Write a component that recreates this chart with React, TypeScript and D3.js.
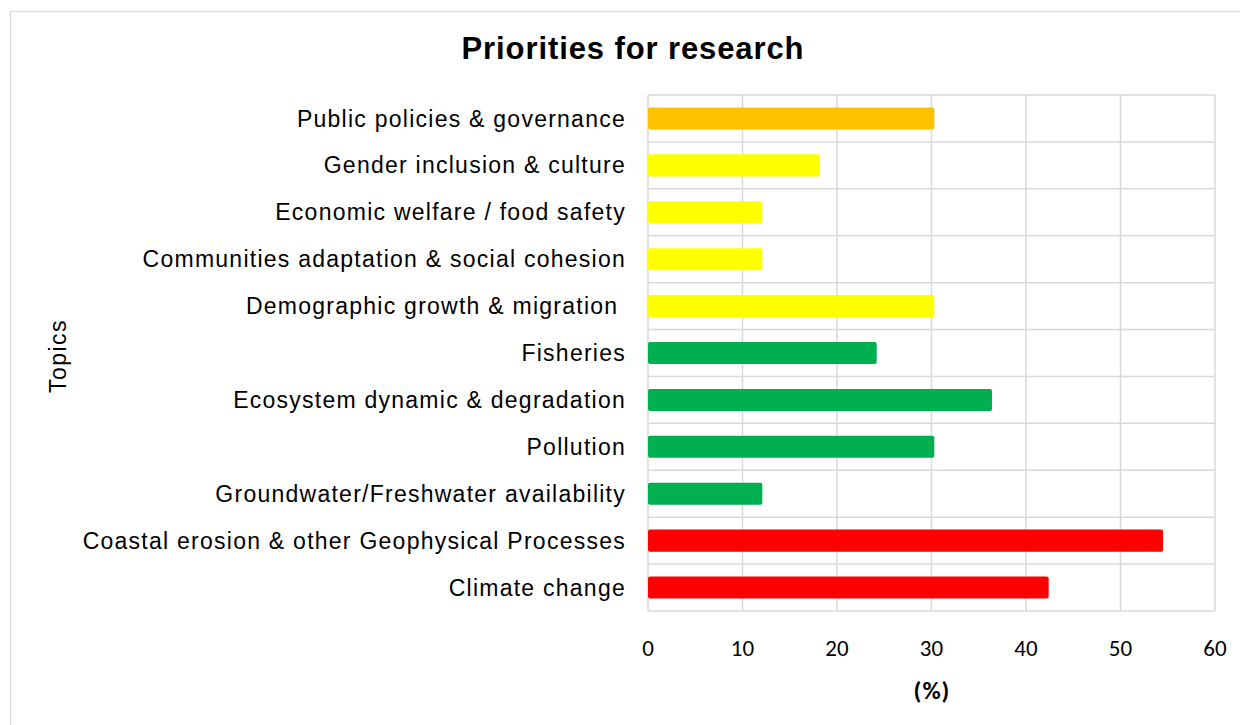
import React from "react";
import * as d3 from "d3";

const categories = [
  "Public policies & governance",
  "Gender inclusion & culture",
  "Economic welfare / food safety",
  "Communities adaptation & social cohesion",
  "Demographic growth & migration ",
  "Fisheries",
  "Ecosystem dynamic & degradation",
  "Pollution",
  "Groundwater/Freshwater availability",
  "Coastal erosion & other Geophysical Processes",
  "Climate change",
];
const values = [30.3, 18.2, 12.1, 12.1, 30.3, 24.2, 36.4, 30.3, 12.1, 54.5, 42.4];
const colors = [
  "#FFC000", "#FFFF00", "#FFFF00", "#FFFF00", "#FFFF00",
  "#00B050", "#00B050", "#00B050", "#00B050",
  "#FF0000", "#FF0000",
];
const xTicks = [0, 10, 20, 30, 40, 50, 60];

export default function App() {
  const W = 1240, H = 725;
  const left = 648, right = 1215, top = 95, bottom = 611;
  const x = d3.scaleLinear().domain([0, 60]).range([left, right]);
  const y = d3.scaleBand().domain(categories).range([top, bottom]).paddingInner(0.53).paddingOuter(0.265);
  const band = d3.scaleBand().domain(categories).range([top, bottom]);
  const grid = "#D9D9D9";
  const labelFont = "'Liberation Sans', Arial, sans-serif";
  const tickFont = "Carlito, Lato, 'Open Sans', sans-serif";
  return (
    <svg width={W} height={H} style={{ position: "absolute", left: 0, top: 0, display: "block" }}>
      <rect x={0} y={0} width={W} height={H} fill="#fff" />
      <rect x={10.5} y={11.5} width={W + 20} height={H + 20} fill="none" stroke="#D9D9D9" strokeWidth={1.2} />
      <text x={633} y={59} textAnchor="middle" fontFamily={labelFont} fontWeight="bold" fontSize={31} letterSpacing={0.9} fill="#000">
        Priorities for research
      </text>
      {categories.map((c, i) => (
        <line key={"h" + i} x1={left} x2={right} y1={band(c)!} y2={band(c)!} stroke={grid} strokeWidth={1.5} />
      ))}
      <line x1={left} x2={right} y1={bottom} y2={bottom} stroke={grid} strokeWidth={1.5} />
      {xTicks.map((t) => (
        <line key={"v" + t} x1={x(t)} x2={x(t)} y1={top} y2={bottom} stroke={grid} strokeWidth={1.5} />
      ))}
      {categories.map((c, i) => (
        <rect key={"b" + i} x={x(0)} y={y(c)!} width={x(values[i]) - x(0)} height={y.bandwidth()} fill={colors[i]} rx={2} />
      ))}
      {categories.map((c, i) => (
        <text key={"l" + i} x={626} y={band(c)! + band.bandwidth() / 2} dy="0.35em" textAnchor="end"
          fontFamily={labelFont} fontSize={23} letterSpacing={1.25} fill="#000" style={{ whiteSpace: "pre" }}>
          {c}
        </text>
      ))}
      {xTicks.map((t) => (
        <text key={"t" + t} x={x(t)} y={648} dy="0.35em" textAnchor="middle" fontFamily={tickFont} fontSize={23} fill="#000">
          {t}
        </text>
      ))}
      <text x={932} y={690} dy="0.35em" textAnchor="middle" fontFamily={tickFont} fontWeight="bold" fontSize={25} letterSpacing={1} fill="#000">
        (%)
      </text>
      <text transform="translate(58,356) rotate(-90)" dy="0.35em" textAnchor="middle" fontFamily={labelFont} fontSize={23} letterSpacing={1.5} fill="#000">
        Topics
      </text>
    </svg>
  );
}
